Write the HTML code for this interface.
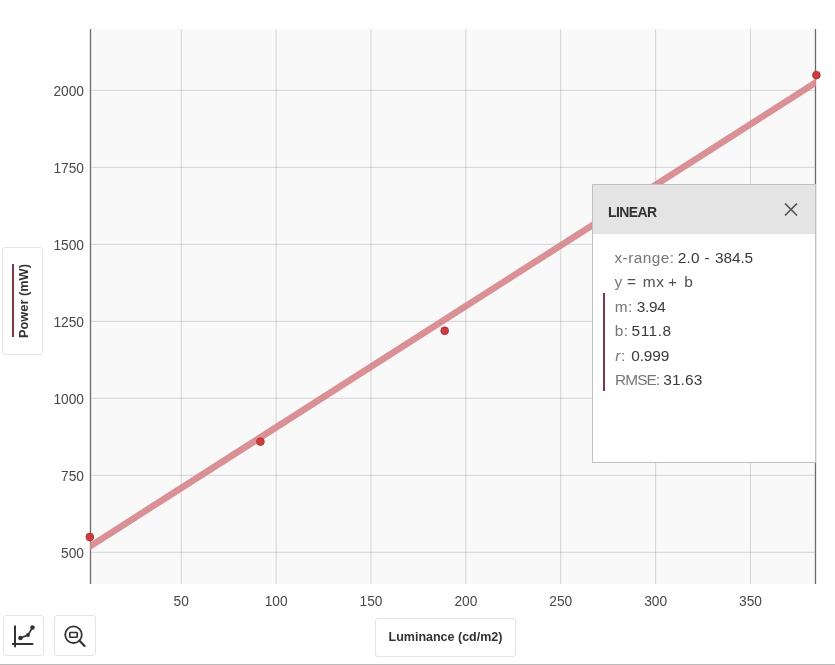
<!DOCTYPE html>
<html><head><meta charset="utf-8">
<style>
html,body{margin:0;padding:0;background:#fff;}
body{width:835px;height:665px;overflow:hidden;position:relative;font-family:"Liberation Sans",Arial,sans-serif;}
#chart{position:absolute;left:0;top:0;}
.tk{font-family:"Liberation Sans",Arial,sans-serif;font-size:14.5px;fill:#474747;}
.btn{position:absolute;box-sizing:border-box;border:1px solid #e4e4e4;border-radius:3px;background:#fff;}
#ylab{left:2px;top:247px;width:41px;height:108px;border-radius:3px;}
#ylab .bar{position:absolute;left:9px;top:16px;width:2px;height:73px;background:#7c3a47;}
#ylab .txt{position:absolute;left:15px;top:90px;transform-origin:0 0;transform:rotate(-90deg);font-weight:bold;font-size:12.8px;color:#333;white-space:nowrap;line-height:12px;}
#xlab{left:375px;top:618px;width:141px;height:39px;border-radius:3px;font-weight:bold;font-size:12.5px;color:#333;text-align:center;line-height:36px;}
#b1{left:3px;top:615px;width:41px;height:41px;}
#b2{left:54px;top:615px;width:42px;height:41px;}
#pop{position:absolute;left:592px;top:184px;width:224px;height:279px;box-sizing:border-box;border:1px solid #c0c0c0;background:#fff;}
#pop .hd{position:absolute;left:0;top:0;right:0;height:49px;background:#e4e4e4;}
#pop .ttl{position:absolute;left:15px;top:19px;font-weight:bold;font-size:14px;letter-spacing:-0.6px;color:#333;}
#pop .x{position:absolute;left:191px;top:18px;}
#pop .w{position:absolute;font-size:15.4px;line-height:17px;color:#3a3a3a;white-space:nowrap;}
#pop .w.l{color:#777;}
#pop .w.e{color:#505050;}
#pop .rb{position:absolute;left:10px;top:108px;width:2px;height:97.5px;background:#7c3a47;}
#bot{position:absolute;left:0;top:664px;width:835px;height:1px;background:#bbb;}
</style></head><body>
<svg id="chart" width="835" height="665">
 <defs><clipPath id="c"><rect x="90" y="29" width="726" height="555"/></clipPath></defs>
 <rect x="90" y="29" width="726" height="555" fill="#f9f9f9"/>
 <g stroke="#000" stroke-opacity="0.15" stroke-width="1" fill="none">
  <path d="M181.26 29V584M276.13 29V584M371.00 29V584M465.87 29V584M560.74 29V584M655.61 29V584M750.48 29V584"/>
  <path d="M90 90.30H816M90 167.30H816M90 244.30H816M90 321.30H816M90 398.30H816M90 475.30H816M90 552.30H816"/>
 </g>
 <path d="M90.5 29V584" stroke="#6b6b6b" stroke-width="1.3"/>
 <path d="M815.5 29V584" stroke="#6b6b6b" stroke-width="1.3"/>
 <g clip-path="url(#c)">
  <path d="M88 547.59L818 81.05" stroke="#d5858b" stroke-opacity="0.9" stroke-width="6.6"/>
 </g>
 <g fill="#cc3a3e" stroke="#a83236" stroke-width="0.8">
  <circle cx="89.8" cy="537" r="3.9"/>
  <circle cx="260.4" cy="441.6" r="3.9"/>
  <circle cx="444.7" cy="330.75" r="3.9"/>
  <circle cx="816.4" cy="75.1" r="3.9"/>
 </g>
 <g class="tk" text-anchor="end">
  <text transform="translate(84 96.30) scale(0.95 1)">2000</text>
  <text transform="translate(84 173.30) scale(0.95 1)">1750</text>
  <text transform="translate(84 250.30) scale(0.95 1)">1500</text>
  <text transform="translate(84 327.30) scale(0.95 1)">1250</text>
  <text transform="translate(84 404.30) scale(0.95 1)">1000</text>
  <text transform="translate(84 481.30) scale(0.95 1)">750</text>
  <text transform="translate(84 558.30) scale(0.95 1)">500</text>
 </g>
 <g class="tk" text-anchor="middle">
  <text transform="translate(181.26 605.5) scale(0.95 1)">50</text>
  <text transform="translate(276.13 605.5) scale(0.95 1)">100</text>
  <text transform="translate(371.00 605.5) scale(0.95 1)">150</text>
  <text transform="translate(465.87 605.5) scale(0.95 1)">200</text>
  <text transform="translate(560.74 605.5) scale(0.95 1)">250</text>
  <text transform="translate(655.61 605.5) scale(0.95 1)">300</text>
  <text transform="translate(750.48 605.5) scale(0.95 1)">350</text>
 </g>
</svg>

<div class="btn" id="ylab"><div class="bar"></div><div class="txt">Power (mW)</div></div>
<div class="btn" id="xlab">Luminance (cd/m2)</div>

<div class="btn" id="b1"><svg width="40" height="41" style="position:absolute;left:-1px;top:-1px">
 <g stroke="#333" stroke-width="2" fill="none" stroke-linecap="round">
  <path d="M12 10.5V32.2M9 29H30.3" stroke-linecap="butt"/>
  <path d="M17.5 23L25 20L29.5 12.5" stroke-width="1.6"/>
 </g>
 <g fill="#333"><circle cx="17.5" cy="23" r="2.3"/><circle cx="25" cy="20" r="1.9"/><circle cx="29.5" cy="12.5" r="2.3"/></g>
</svg></div>
<div class="btn" id="b2"><svg width="41" height="41" style="position:absolute;left:-1px;top:-1px">
 <g stroke="#333" stroke-width="1.8" fill="none" stroke-linecap="round">
  <circle cx="19.5" cy="19.7" r="8.3"/>
  <path d="M25.5 25.7L30.6 30.9" stroke-width="2.2"/>
  <rect x="15.8" y="17.5" width="7.4" height="4.8" stroke-width="1.6" rx="0.5"/>
 </g>
</svg></div>

<div id="pop">
 <div class="hd"></div>
 <div class="ttl">LINEAR</div>
 <svg class="x" width="14" height="14"><path d="M1 0.5L13 12.5M13 0.5L1 12.5" stroke="#555" stroke-width="1.7"/></svg>
 <div class="rb"></div>
<!--W-->
 <span class="w l" style="left:21.40px;top:64px;letter-spacing:0.46px">x-range:</span>
 <span class="w v" style="left:84.80px;top:64px;letter-spacing:0.20px">2.0</span>
 <span class="w v" style="left:111.60px;top:64px;letter-spacing:0.00px">-</span>
 <span class="w v" style="left:122.00px;top:64px;letter-spacing:-0.10px">384.5</span>
 <span class="w l" style="left:21.50px;top:88px;letter-spacing:0.00px">y</span>
 <span class="w e" style="left:34.00px;top:88px;letter-spacing:0.00px">=</span>
 <span class="w e" style="left:49.70px;top:88px;letter-spacing:0.80px">mx</span>
 <span class="w e" style="left:75.00px;top:88px;letter-spacing:0.00px">+</span>
 <span class="w e" style="left:91.20px;top:88px;letter-spacing:0.00px">b</span>
 <span class="w l" style="left:21.80px;top:113px;letter-spacing:0.40px">m:</span>
 <span class="w v" style="left:43.70px;top:113px;letter-spacing:-0.27px">3.94</span>
 <span class="w l" style="left:21.80px;top:137px;letter-spacing:0.40px">b:</span>
 <span class="w v" style="left:38.60px;top:137px;letter-spacing:0.50px">511.8</span>
 <span class="w l" style="left:22.20px;top:162px;letter-spacing:0.60px"><i>r</i>:</span>
 <span class="w v" style="left:38.20px;top:162px;letter-spacing:-0.10px">0.999</span>
 <span class="w l" style="left:22.00px;top:186px;letter-spacing:-0.90px">RMSE:</span>
 <span class="w v" style="left:70.30px;top:186px;letter-spacing:0.10px">31.63</span>
<!--/W-->
</div>
<div id="bot"></div>
</body></html>
